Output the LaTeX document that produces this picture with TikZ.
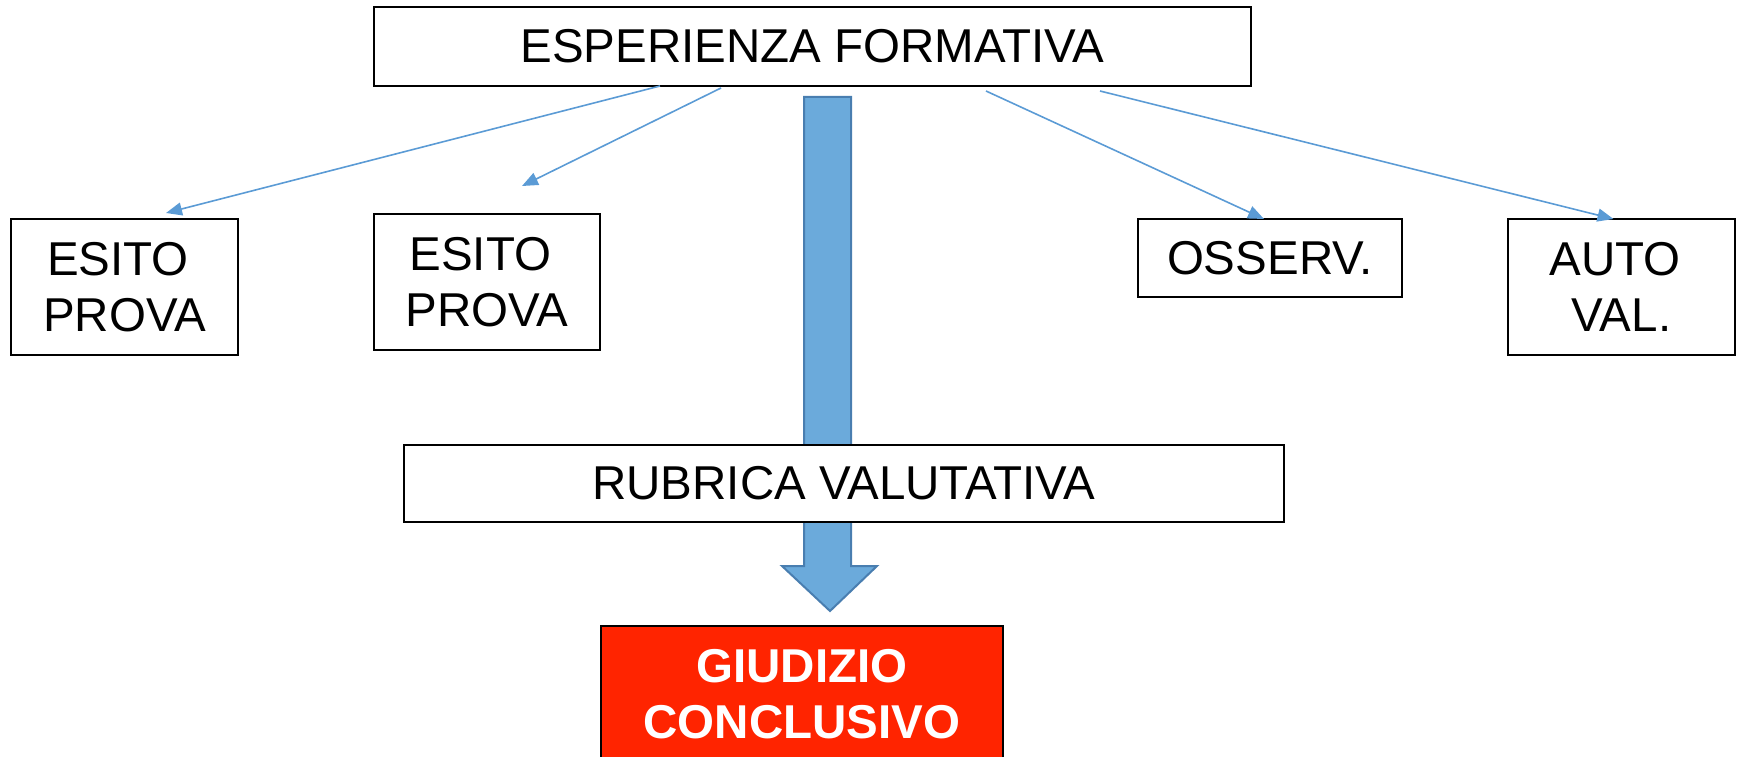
\documentclass[tikz,border=0pt]{standalone}
\usepackage{fontspec}
\setmainfont{Liberation Sans}
\usetikzlibrary{arrows.meta}
\definecolor{lineblue}{RGB}{91,155,213}
\definecolor{barblue}{RGB}{107,170,219}
\definecolor{baredge}{RGB}{73,126,176}
\definecolor{redbox}{RGB}{255,36,0}

\begin{document}
\begin{tikzpicture}[x=1pt, y=-1pt,
    box/.style={draw, line width=2pt, fill=white, inner sep=0pt, outer sep=0pt,
        align=center, font=\fontsize{47.5}{56}\selectfont},
    link/.style={lineblue, line width=1.6pt, -{Triangle[length=16pt,width=13pt]}}]
    \useasboundingbox (0,0) rectangle (1737,757);

    % Big block arrow (behind the boxes)
    \draw[baredge, line width=2pt, fill=barblue]
        (804,97) -- (851,97) -- (851,566) -- (877,566) -- (830,611)
        -- (782,566) -- (804,566) -- cycle;

    % Boxes
    \node[box, minimum width=877, minimum height=79] (esp) at (812.5,46.5) {ESPERIENZA FORMATIVA};
    \node[box, minimum width=227, minimum height=136] (esito1) at (124.5,287) {ESITO\hspace*{.28em}\\PROVA};
    \node[box, minimum width=226, minimum height=136] (esito2) at (487,282) {ESITO\hspace*{.28em}\\PROVA};
    \node[box, minimum width=264, minimum height=78] (osserv) at (1270,258) {OSSERV.};
    \node[box, minimum width=227, minimum height=136] (autoval) at (1621.5,287) {AUTO\hspace*{.28em}\\VAL.};
    \node[box, minimum width=880, minimum height=77] (rubrica) at (844,483.5) {RUBRICA VALUTATIVA};
    \node[box, fill=redbox, line width=1.5pt, text=white, font=\fontsize{47.5}{56}\selectfont\bfseries,
        minimum width=402, minimum height=136] (giudizio) at (802,694) {GIUDIZIO\\CONCLUSIVO};

    % Thin arrows
    \coordinate (free) at (522,186);
    \draw[link] ([xshift=-152.5pt]esp.south) -- ([xshift=41.5pt, yshift=6pt]esito1.north);
    \draw[link] ([xshift=-91.5pt, yshift=-2pt]esp.south) -- (free);
    \draw[link] ([xshift=173.5pt, yshift=-5pt]esp.south) -- ([xshift=-6pt]osserv.north);
    \draw[link] ([xshift=287.5pt, yshift=-5pt]esp.south) -- ([xshift=-8pt]autoval.north);
\end{tikzpicture}
\end{document}
